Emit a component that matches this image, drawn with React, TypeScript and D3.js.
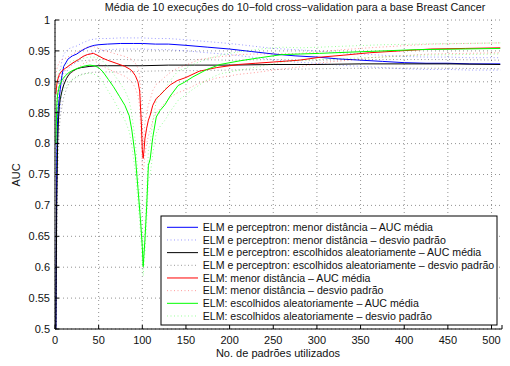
import * as d3 from "d3"

// numero de padroes (x) e AUC media / desvio para cada configuracao
const blueX = [1, 2, 3, 4, 6, 8, 10, 15, 20, 25, 30, 35, 40, 45, 50, 60, 75, 90, 100, 115, 130, 150, 175, 200, 225, 250, 275, 300, 325, 350, 375, 400, 425, 450, 475, 510]
const blueMean = [0.5, 0.78, 0.84, 0.862, 0.888, 0.91, 0.925, 0.937, 0.942, 0.945, 0.95, 0.954, 0.957, 0.959, 0.96, 0.961, 0.962, 0.962, 0.962, 0.961, 0.961, 0.959, 0.956, 0.953, 0.949, 0.945, 0.942, 0.94, 0.937, 0.935, 0.933, 0.931, 0.93, 0.93, 0.929, 0.929]
const blueStd = [0, 0.05, 0.04, 0.035, 0.03, 0.025, 0.02, 0.016, 0.014, 0.013, 0.012, 0.011, 0.011, 0.01, 0.01, 0.009, 0.009, 0.009, 0.009, 0.009, 0.009, 0.009, 0.009, 0.009, 0.009, 0.009, 0.01, 0.01, 0.01, 0.01, 0.01, 0.01, 0.01, 0.01, 0.01, 0.01]

const blackX = [1, 2, 3, 4, 5, 6, 8, 10, 13, 16, 20, 25, 30, 40, 50, 60, 80, 100, 130, 160, 200, 250, 300, 350, 400, 450, 510]
const blackMean = [0.5, 0.7, 0.8, 0.84, 0.86, 0.872, 0.885, 0.895, 0.905, 0.912, 0.917, 0.921, 0.923, 0.925, 0.926, 0.926, 0.926, 0.926, 0.927, 0.927, 0.927, 0.928, 0.928, 0.929, 0.929, 0.929, 0.928]
const blackStd = [0, 0.06, 0.05, 0.04, 0.035, 0.03, 0.025, 0.02, 0.017, 0.015, 0.013, 0.012, 0.011, 0.01, 0.01, 0.01, 0.01, 0.009, 0.009, 0.009, 0.008, 0.008, 0.007, 0.007, 0.007, 0.007, 0.007]

const redX = [1, 2, 3, 5, 8, 12, 17, 22, 27, 32, 37, 44, 50, 55, 60, 70, 80, 85, 88, 92, 95, 97, 99, 100, 101, 102, 103, 105, 107, 109, 112, 116, 120, 126, 132, 140, 150, 165, 185, 210, 230, 250, 280, 305, 330, 360, 395, 430, 470, 510]
const redMean = [0.88, 0.895, 0.903, 0.912, 0.918, 0.922, 0.927, 0.932, 0.936, 0.941, 0.944, 0.946, 0.942, 0.938, 0.935, 0.93, 0.925, 0.921, 0.918, 0.91, 0.9, 0.885, 0.83, 0.79, 0.776, 0.79, 0.808, 0.825, 0.838, 0.846, 0.862, 0.873, 0.878, 0.887, 0.895, 0.902, 0.907, 0.917, 0.923, 0.928, 0.93, 0.932, 0.935, 0.94, 0.943, 0.947, 0.95, 0.953, 0.954, 0.955]
const redStd = [0.03, 0.025, 0.022, 0.02, 0.018, 0.016, 0.015, 0.014, 0.013, 0.012, 0.012, 0.011, 0.012, 0.013, 0.014, 0.015, 0.016, 0.017, 0.018, 0.02, 0.022, 0.025, 0.03, 0.03, 0.02, 0.025, 0.025, 0.025, 0.025, 0.025, 0.024, 0.023, 0.022, 0.021, 0.02, 0.02, 0.02, 0.019, 0.017, 0.016, 0.015, 0.013, 0.011, 0.009, 0.009, 0.008, 0.008, 0.008, 0.008, 0.008]

const greenX = [1, 2, 3, 5, 8, 12, 16, 21, 28, 35, 40, 45, 50, 55, 61, 67, 74, 80, 85, 88, 92, 95, 98, 100, 101, 103, 105, 107, 109, 112, 116, 120, 126, 132, 141, 148, 158, 174, 189, 212, 235, 260, 281, 303, 338, 376, 414, 464, 510]
const greenMean = [0.8, 0.86, 0.88, 0.893, 0.903, 0.91, 0.915, 0.919, 0.923, 0.926, 0.927, 0.926, 0.923, 0.916, 0.904, 0.892, 0.876, 0.862, 0.845, 0.822, 0.779, 0.728, 0.675, 0.633, 0.601, 0.644, 0.698, 0.765, 0.775, 0.81, 0.843, 0.853, 0.863, 0.877, 0.894, 0.899, 0.908, 0.92, 0.928, 0.934, 0.939, 0.944, 0.945, 0.946, 0.948, 0.95, 0.952, 0.953, 0.954]
const greenStd = [0.05, 0.04, 0.03, 0.025, 0.02, 0.018, 0.016, 0.015, 0.013, 0.013, 0.013, 0.014, 0.015, 0.017, 0.019, 0.021, 0.023, 0.024, 0.025, 0.025, 0.025, 0.022, 0.02, 0.018, 0.015, 0.02, 0.025, 0.025, 0.026, 0.026, 0.026, 0.026, 0.025, 0.025, 0.024, 0.022, 0.02, 0.017, 0.015, 0.015, 0.014, 0.012, 0.01, 0.01, 0.01, 0.01, 0.009, 0.009, 0.009]

const xTicks = [0, 50, 100, 150, 200, 250, 300, 350, 400, 450, 500]
const yTicks = [0.5, 0.55, 0.6, 0.65, 0.7, 0.75, 0.8, 0.85, 0.9, 0.95, 1]

const legendLabels = [
  "ELM e perceptron: menor distância – AUC média",
  "ELM e perceptron: menor distância – desvio padrão",
  "ELM e perceptron: escolhidos aleatoriamente – AUC média",
  "ELM e perceptron: escolhidos aleatoriamente – desvio padrão",
  "ELM: menor distância – AUC média",
  "ELM: menor distância – desvio padrão",
  "ELM: escolhidos aleatoriamente – AUC média",
  "ELM: escolhidos aleatoriamente – desvio padrão",
]

const series = [
  { xs: blueX, mean: blueMean, std: blueStd, color: "#0000ff" },
  { xs: blackX, mean: blackMean, std: blackStd, color: "#000000" },
  { xs: redX, mean: redMean, std: redStd, color: "#ff0000" },
  { xs: greenX, mean: greenMean, std: greenStd, color: "#00ff00" },
]

const font = "'Liberation Sans', Arial, Helvetica, sans-serif"

export default function App() {
  const width = 510
  const height = 366
  const left = 55
  const right = 502
  const top = 20
  const bottom = 329

  const x = d3.scaleLinear().domain([0, 512]).range([left, right])
  const y = d3.scaleLinear().domain([0.5, 1]).range([bottom, top])

  const line = d3
    .line<[number, number]>()
    .x((d) => x(d[0]))
    .y((d) => y(d[1]))

  const dotted = "1 2.5"

  return (
    <svg
      width={width}
      height={height}
      style={{ position: "absolute", left: 0, top: 0, background: "#fff" }}
      fontFamily={font}
    >
      <defs>
        <clipPath id="plot">
          <rect x={left} y={top} width={right - left} height={bottom - top} />
        </clipPath>
      </defs>

      {/* grid */}
      {xTicks.map((t) => (
        <line key={"gx" + t} x1={x(t)} x2={x(t)} y1={top} y2={bottom} stroke="#777" strokeWidth={0.8} strokeDasharray="1 3" />
      ))}
      {yTicks.map((t) => (
        <line key={"gy" + t} x1={left} x2={right} y1={y(t)} y2={y(t)} stroke="#777" strokeWidth={0.8} strokeDasharray="1 3" />
      ))}

      {/* curves */}
      <g clipPath="url(#plot)">
        {series.map((s, i) => {
          const meanPts = s.xs.map((v, j) => [v, s.mean[j]] as [number, number])
          const upPts = s.xs.map((v, j) => [v, s.mean[j] + s.std[j]] as [number, number])
          const lowPts = s.xs.map((v, j) => [v, s.mean[j] - s.std[j]] as [number, number])
          return (
            <g key={i}>
              <path d={line(meanPts) || ""} fill="none" stroke={s.color} strokeWidth={1} />
              <path d={line(upPts) || ""} fill="none" stroke={s.color} strokeWidth={0.8} strokeOpacity={0.5} strokeDasharray={dotted} />
              <path d={line(lowPts) || ""} fill="none" stroke={s.color} strokeWidth={0.8} strokeOpacity={0.5} strokeDasharray={dotted} />
            </g>
          )
        })}
      </g>

      {/* axes */}
      <line x1={left} x2={left} y1={top} y2={bottom} stroke="#000" strokeWidth={1} />
      <line x1={left} x2={right} y1={bottom} y2={bottom} stroke="#000" strokeWidth={1} />
      {xTicks.map((t) => (
        <g key={"tx" + t}>
          <line x1={x(t)} x2={x(t)} y1={bottom} y2={bottom - 4} stroke="#000" />
          <text x={x(t)} y={343.5} fontSize={11} textAnchor="middle" fill="#111">
            {t}
          </text>
        </g>
      ))}
      <line x1={right} x2={right} y1={bottom} y2={bottom - 4} stroke="#000" />
      {yTicks.map((t) => (
        <g key={"ty" + t}>
          <line x1={left} x2={left + 4} y1={y(t)} y2={y(t)} stroke="#000" />
          <text x={50} y={y(t)} dy="0.35em" fontSize={11} textAnchor="end" fill="#111">
            {String(t)}
          </text>
        </g>
      ))}

      {/* labels */}
      <text x={295} y={11} fontSize={10.8} textAnchor="middle" fill="#111">
        Média de 10 execuções do 10−fold cross−validation para a base Breast Cancer
      </text>
      <text x={278} y={357} fontSize={11} textAnchor="middle" fill="#111">
        No. de padrões utilizados
      </text>
      <text transform="translate(20,175) rotate(-90)" fontSize={11} textAnchor="middle" fill="#111">
        AUC
      </text>

      {/* legend */}
      <rect x={161} y={216} width={336} height={109} fill="#fff" stroke="#000" strokeWidth={1} />
      {legendLabels.map((label, i) => {
        const s = series[Math.floor(i / 2)]
        const cy = 227.3 + i * 12.67
        const isStd = i % 2 === 1
        return (
          <g key={label}>
            <line
              x1={167}
              x2={198}
              y1={cy}
              y2={cy}
              stroke={s.color}
              strokeWidth={isStd ? 0.8 : 1}
              strokeOpacity={isStd ? 0.5 : 1}
              strokeDasharray={isStd ? dotted : undefined}
            />
            <text x={202.7} y={cy} dy="0.35em" fontSize={10.6} fill="#111">
              {label}
            </text>
          </g>
        )
      })}
    </svg>
  )
}
